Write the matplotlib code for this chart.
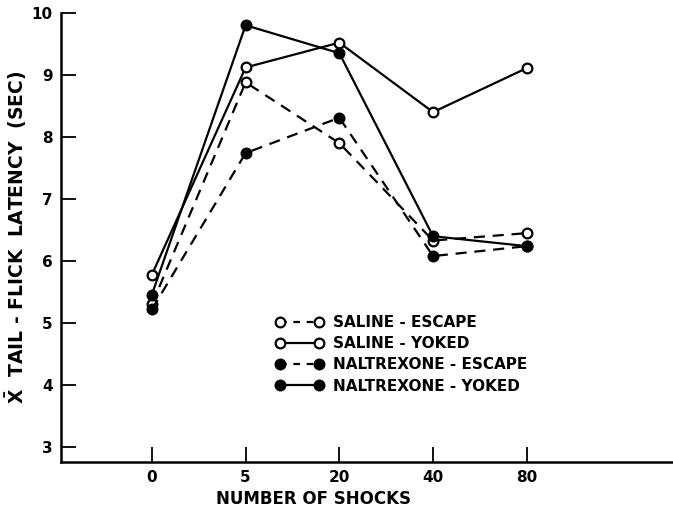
import numpy as np
import matplotlib.pyplot as plt
from matplotlib.lines import Line2D

plt.rcParams.update({
    'font.family': 'DejaVu Sans',
    'font.weight': 'bold',
    'font.size': 11,
    'mathtext.default': 'bf',
})

shocks = ['0', '5', '20', '40', '80']
saline_escape = [5.30, 8.88, 7.90, 6.33, 6.45]
saline_yoked = [5.78, 9.12, 9.52, 8.40, 9.11]
nalt_escape = [5.22, 7.74, 8.31, 6.08, 6.24]
nalt_yoked = [5.46, 9.80, 9.35, 6.40, 6.24]

series = [
    ('SALINE - ESCAPE', saline_escape, 'white', (0, (5, 3.5))),
    ('SALINE - YOKED', saline_yoked, 'white', '-'),
    ('NALTREXONE - ESCAPE', nalt_escape, 'black', (0, (5, 3.5))),
    ('NALTREXONE - YOKED', nalt_yoked, 'black', '-'),
]

fig = plt.figure(figsize=(6.73, 5.14), dpi=100)
ax = fig.add_axes([0.0906, 0.101, 0.9094, 0.874])

x = np.arange(len(shocks))
handles = []
for label, vals, face, ls in series:
    ax.plot(x, vals, color='black', lw=1.6, linestyle=ls, marker='o',
            markersize=7, markerfacecolor=face, markeredgecolor='black',
            markeredgewidth=1.6, zorder=3)
    handles.append(Line2D([], [], color='black', lw=1.6,
                          linestyle=(0, (3, 3)) if ls != '-' else '-',
                          marker='o', markersize=7, markerfacecolor=face,
                          markeredgecolor='black', markeredgewidth=1.6,
                          label=label))

ax.set_xlim(-0.97, 5.56)
ax.set_ylim(2.76, 10)
ax.set_xticks(x)
ax.set_xticklabels(shocks)
ax.set_yticks(range(3, 11))

for side in ['top', 'right']:
    ax.spines[side].set_visible(False)
for side in ['left', 'bottom']:
    ax.spines[side].set_linewidth(1.8)

ax.tick_params(axis='both', direction='in', length=11, width=1.3,
               labelsize=11, pad=6)

ax.set_xlabel('NUMBER OF SHOCKS', fontsize=12, fontweight='bold')
ax.xaxis.set_label_coords(0.412, -0.062)
ax.set_ylabel(r'$\bar{X}$  TAIL - FLICK  LATENCY  (SEC)', fontsize=13.5,
              fontweight='bold')
ax.yaxis.set_label_coords(-0.052, 0.50)

ax.legend(handles=handles, loc='upper left', bbox_to_anchor=(0.350, 0.327),
          frameon=False, numpoints=2, handlelength=3.15, handletextpad=0.65,
          labelspacing=0.4, borderpad=0, borderaxespad=0, fontsize=11)

fig.savefig('out.png', dpi=100)
